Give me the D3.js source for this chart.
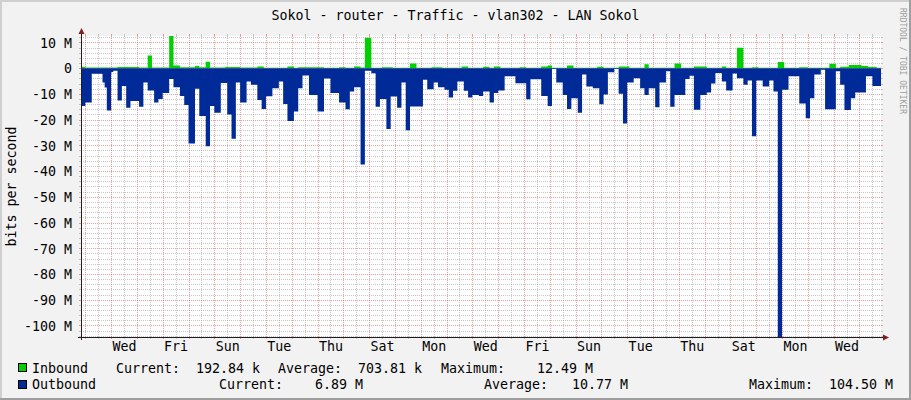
<!DOCTYPE html>
<html><head><meta charset="utf-8">
<script src="https://cdn.jsdelivr.net/npm/d3@7"></script>
<style>
body{margin:0;background:#F2F2F2}
svg{display:block}
text{font-family:"DejaVu Sans Mono",monospace;fill:#000;white-space:pre}
</style></head>
<body><svg id="chart" width="911" height="400"></svg>
<script>
// ---------------- data ----------------
const title = "Sokol - router - Traffic - vlan302 - LAN Sokol";
const yAxisTitle = "bits per second";
const watermark = "RRDTOOL / TOBI OETIKER";
const startTime = Date.UTC(2024, 0, 1, 20, 0);   // Monday 20:00
const spanHours = 744;                           // 31 days

// Outbound (Mbit/s, drawn downward): step start hour -> value
const outHours = [0,4,10,20,22,24,28,30,34,38,42,46,54,58,62,68,72,76,82,86,92,96,100,106,110,116,120,124,130,136,140,144,148,154,158,164,168,172,178,184,188,192,198,202,206,212,220,226,232,240,246,250,254,260,264,270,274,278,284,288,294,298,302,306,318,322,328,332,338,342,346,350,356,360,364,370,374,380,384,388,394,404,414,418,428,434,438,442,448,452,456,462,466,470,476,482,486,490,496,500,504,508,514,520,524,528,534,538,544,548,552,562,566,570,576,582,586,590,596,600,606,610,616,620,624,628,634,640,644,648,652,658,668,674,678,682,688,692,702,706,710,716,720,730,736];
const outbound = [14.7,13.4,2.2,5.6,7.5,16.5,1.5,1.0,12.6,6.9,15.4,12.8,15.0,5.6,8.7,13.4,12.0,9.7,4.2,7.4,10.8,14.3,29.3,8.0,18.6,30.4,14.7,17.3,5.8,18.0,27.4,5.6,13.4,5.2,6.5,12.4,15.9,10.9,7.8,5.2,13.9,20.5,16.9,7.8,2.9,10.4,16.9,4.0,9.7,13.4,16.0,9.1,7.4,37.5,1.0,2.0,15.0,12.0,23.7,11.0,15.4,5.6,24.1,14.9,4.5,8.2,5.6,7.4,8.4,11.4,8.8,5.2,8.8,11.4,10.4,10.8,9.1,13.4,9.7,8.7,3.2,5.9,12.1,4.3,10.8,14.7,0.3,5.6,10.4,15.9,11.7,17.3,2.5,7.1,7.8,14.0,10.2,1.6,0.3,10.0,21.5,5.6,3.9,7.8,10.4,7.8,15.2,5.6,1.2,15.0,10.4,4.2,3.0,16.2,10.4,9.5,6.0,1.9,5.2,8.7,2.1,3.9,6.5,4.8,26.5,4.8,7.1,4.8,9.1,104.5,8.4,3.2,13.7,19.5,11.7,2.5,0.6,16.0,1.2,6.5,16.3,11.7,9.5,3.2,6.9];

// Inbound (Mbit/s, drawn upward)
const inHours = [0,4,34,54,62,66,82,86,92,106,110,116,120,134,148,164,170,192,198,202,226,240,246,254,260,264,270,280,290,306,312,326,336,354,360,374,380,384,390,408,414,428,434,438,452,458,480,486,500,510,524,528,552,558,570,582,596,600,610,616,624,630,648,654,668,676,696,702,706,714,726,732,740];
const inbound = [0.5,0.2,0.4,0.2,4.9,0.2,12.49,1.0,0.3,0.8,0.3,2.5,0.2,0.4,0.2,0.6,0.15,0.6,0.15,0.3,0.15,0.3,0.15,0.6,0.2,11.8,0.15,0.3,0.15,1.8,0.15,0.3,0.15,0.6,0.15,0.5,0.15,0.6,0.15,0.3,0.15,0.6,1.0,0.15,1.0,0.15,0.5,0.15,0.6,0.15,1.5,0.15,1.8,0.15,0.6,0.15,0.6,0.15,7.9,0.15,0.3,0.15,2.4,0.15,0.3,0.15,1.7,0.15,0.5,1.2,0.8,0.4,0.19];

const yTicks = [10,0,-10,-20,-30,-40,-50,-60,-70,-80,-90,-100];
const yDomain = [-104.5, 12.49];

const seriesNames = ["Inbound", "Outbound"];
const seriesColors = ["#00CF00", "#002A97"];
const currentLabels = ["  192.84 k", "    6.89 M"];
const averageLabels = ["  703.81 k", "   10.77 M"];
const maximumLabels = ["    12.49 M", "  104.50 M"];

// ---------------- drawing ----------------
const svg = d3.select("#chart");
const W = 911, H = 400;
const X0 = 81, X1 = 881, Y0 = 337, Y1 = 36;
const HOUR = 3600e3;
const FS = 13.3;

const x = d3.scaleUtc()
  .domain([new Date(startTime), new Date(startTime + spanHours * HOUR)])
  .range([X0, X1]);
const y = d3.scaleLinear().domain(yDomain).range([Y0, Y1]);

// background + 3D border
svg.append("rect").attr("width", W).attr("height", H).attr("fill", "#F2F2F2");
svg.append("rect").attr("x", 0).attr("y", 0).attr("width", W).attr("height", 2).attr("fill", "#CFCFCF");
svg.append("rect").attr("x", 0).attr("y", 0).attr("width", 2).attr("height", H).attr("fill", "#CFCFCF");
svg.append("rect").attr("x", W - 2).attr("y", 0).attr("width", 2).attr("height", H).attr("fill", "#9E9E9E");
svg.append("rect").attr("x", 0).attr("y", H - 2).attr("width", W).attr("height", 2).attr("fill", "#9E9E9E");

// canvas
svg.append("rect").attr("x", X0).attr("y", Y1).attr("width", X1 - X0).attr("height", Y0 - Y1).attr("fill", "#FFFFFF");

const grid = svg.append("g").attr("shape-rendering", "crispEdges");
const minorCol = "rgba(143,143,143,0.50)";
const majorCol = "rgba(222,79,79,0.55)";

// horizontal grid
d3.range(-104, 13, 2).forEach(v => {
  const yy = Math.round(y(v)) + 0.5;
  const major = v % 10 === 0;
  const col = major ? majorCol : minorCol;
  grid.append("line").attr("x1", X0).attr("x2", X1).attr("y1", yy).attr("y2", yy)
    .attr("stroke", col).attr("stroke-dasharray", "1,1");
  grid.append("line").attr("x1", X0 - 2).attr("x2", X0).attr("y1", yy).attr("y2", yy).attr("stroke", col);
  grid.append("line").attr("x1", X1).attr("x2", X1 + 2).attr("y1", yy).attr("y2", yy).attr("stroke", col);
});

// vertical grid (12h minor, daily major)
d3.utcHour.every(12).range(x.domain()[0], x.domain()[1]).forEach(d => {
  const xx = Math.round(x(d)) + 0.5;
  const major = d.getUTCHours() === 0;
  const col = major ? majorCol : minorCol;
  grid.append("line").attr("x1", xx).attr("x2", xx).attr("y1", Y1).attr("y2", Y0)
    .attr("stroke", col).attr("stroke-dasharray", "1,1");
  grid.append("line").attr("x1", xx).attr("x2", xx).attr("y1", Y1 - 2).attr("y2", Y1).attr("stroke", col);
  grid.append("line").attr("x1", xx).attr("x2", xx).attr("y1", Y0).attr("y2", Y0 + 2).attr("stroke", col);
});

// series
function toSeries(hours, vals, sign) {
  const pts = hours.map((h, i) => ({ t: new Date(startTime + h * HOUR), v: sign * vals[i] }));
  pts.push({ t: new Date(startTime + spanHours * HOUR), v: sign * vals[vals.length - 1] });
  return pts;
}
const area = d3.area()
  .x(d => x(d.t)).y0(y(0)).y1(d => y(d.v))
  .curve(d3.curveStepAfter);

svg.append("path").datum(toSeries(inHours, inbound, 1))
  .attr("d", area).attr("fill", seriesColors[0]);
svg.append("path").datum(toSeries(outHours, outbound, -1))
  .attr("d", area).attr("fill", seriesColors[1]);

// axes lines + arrows
const axisCol = "#1F1F1F", arrowCol = "#801F1F";
svg.append("line").attr("x1", X0 - 3).attr("x2", X1 + 3).attr("y1", Y0 + 0.5).attr("y2", Y0 + 0.5)
  .attr("stroke", axisCol).attr("shape-rendering", "crispEdges");
svg.append("line").attr("x1", X0 + 0.5).attr("x2", X0 + 0.5).attr("y1", Y0 + 3).attr("y2", Y1 - 3)
  .attr("stroke", axisCol).attr("shape-rendering", "crispEdges");
svg.append("path").attr("d", `M${X1 + 2},${Y0 - 3 + 0.5}L${X1 + 2},${Y0 + 3.5}L${X1 + 8},${Y0 + 0.5}Z`).attr("fill", arrowCol);
svg.append("path").attr("d", `M${X0 - 3 + 0.5},${Y1 - 2}L${X0 + 3.5},${Y1 - 2}L${X0 + 0.5},${Y1 - 8}Z`).attr("fill", arrowCol);

// y axis labels
const yAxis = d3.axisLeft(y).tickValues(yTicks)
  .tickFormat(v => v === 0 ? "0" : `${v} M`).tickSize(0).tickPadding(9);
const gy = svg.append("g").attr("transform", `translate(${X0},0.5)`).call(yAxis);
gy.select(".domain").remove();
gy.selectAll("text").attr("font-family", "DejaVu Sans Mono").attr("font-size", FS).attr("fill", "#000");

// x axis labels: every other day, centred on noon
const firstLabelDay = d3.utcDay.ceil(new Date(startTime + 24 * HOUR)); // Wednesday
const labelDates = d3.utcDay.every(1).range(firstLabelDay, x.domain()[1])
  .filter((d, i) => i % 2 === 0)
  .map(d => new Date(+d + 12 * HOUR))
  .filter(d => d <= x.domain()[1]);
const xAxis = d3.axisBottom(x).tickValues(labelDates)
  .tickFormat(d3.utcFormat("%a")).tickSize(0).tickPadding(5);
const gx = svg.append("g").attr("transform", `translate(0,${Y0})`).call(xAxis);
gx.select(".domain").remove();
gx.selectAll("text").attr("font-family", "DejaVu Sans Mono").attr("font-size", FS).attr("fill", "#000");

// title
svg.append("text").attr("x", 455.5).attr("y", 20).attr("text-anchor", "middle")
  .attr("font-size", FS).text(title);

// y title
svg.append("text").attr("transform", `translate(16,${(Y0 + Y1) / 2}) rotate(-90)`)
  .attr("text-anchor", "middle").attr("font-size", FS).text(yAxisTitle);

// watermark
svg.append("text").attr("transform", `translate(900,8) rotate(90)`)
  .attr("font-size", 8).style("fill", "#9E9E9E").text(watermark);

// legend
const legendLayout = [
  { y: 373, box: 363, cur: 116, avg: 278, max: 441 },
  { y: 389, box: 380, cur: 219, avg: 484, max: 749 }
];
seriesNames.forEach((name, i) => {
  const L = legendLayout[i];
  svg.append("rect").attr("x", 18.5).attr("y", L.box + 0.5).attr("width", 8).attr("height", 8)
    .attr("fill", seriesColors[i]).attr("stroke", "#000").attr("stroke-width", 1);
  const row = svg.append("g").attr("font-size", FS);
  row.append("text").attr("x", 32).attr("y", L.y).text(name);
  row.append("text").attr("x", L.cur).attr("y", L.y).text("Current:" + currentLabels[i]);
  row.append("text").attr("x", L.avg).attr("y", L.y).text("Average:" + averageLabels[i]);
  row.append("text").attr("x", L.max).attr("y", L.y).text("Maximum:" + maximumLabels[i]);
});
</script>
</body></html>
